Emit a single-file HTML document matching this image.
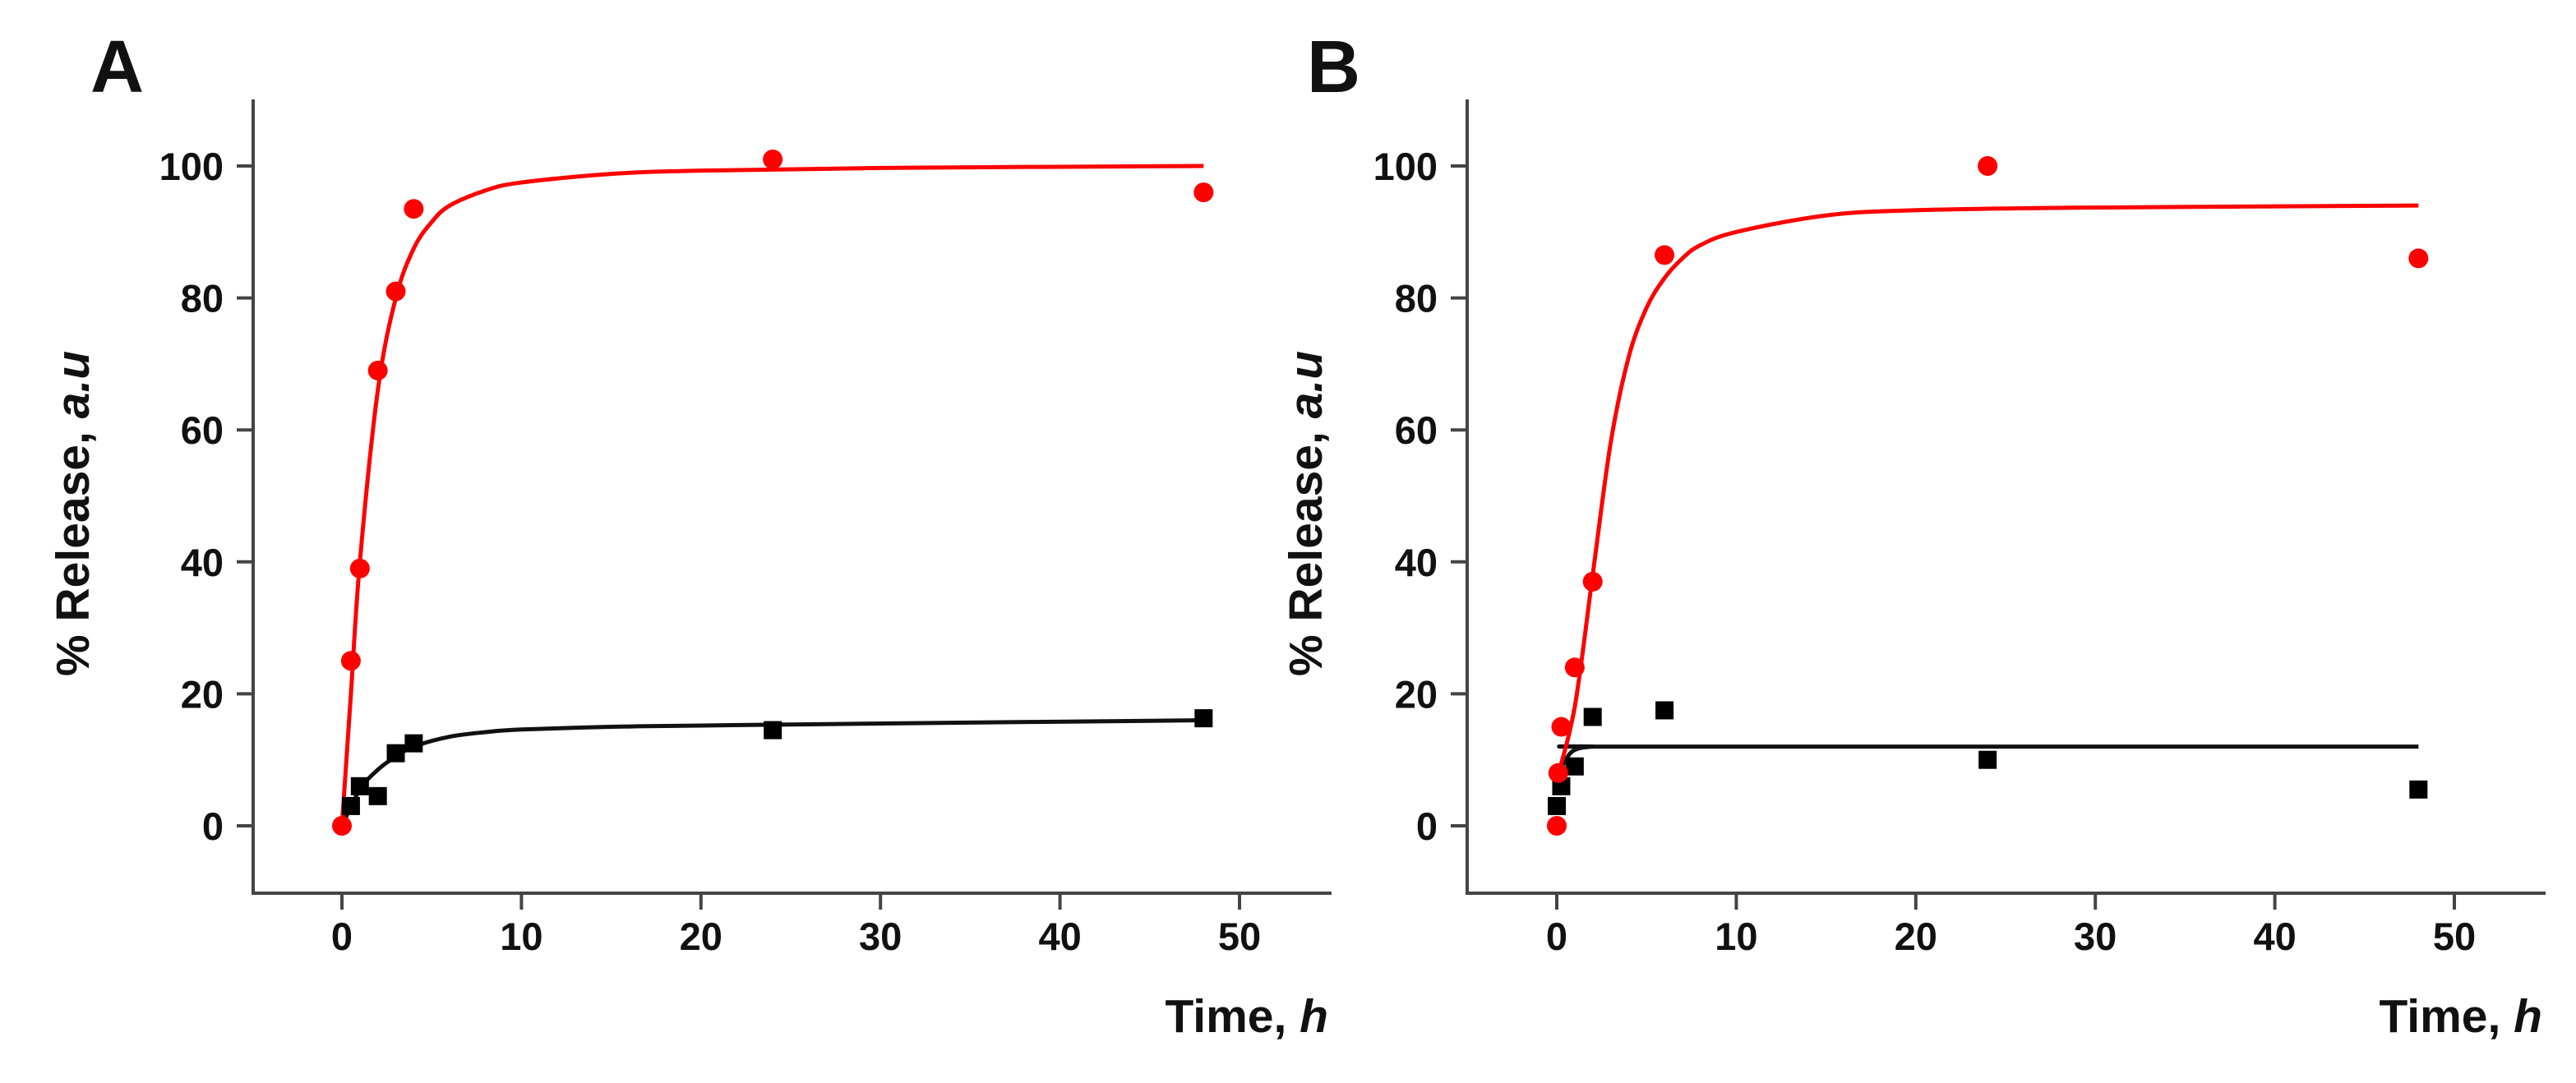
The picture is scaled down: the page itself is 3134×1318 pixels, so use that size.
<!DOCTYPE html>
<html><head><meta charset="utf-8"><style>
html,body{margin:0;padding:0;background:#fff}
svg{display:block}
text{font-family:"Liberation Sans",sans-serif;font-weight:bold;fill:#111}
</style></head><body>
<svg id="chart" width="3134" height="1318" viewBox="0 0 3134 1318" xmlns="http://www.w3.org/2000/svg"></svg>
<script>
// Panel A data
const timesA_red = [0, 0.5, 1, 2, 3, 4, 24, 48];
const valuesA_red = [0, 25, 39, 69, 81, 93.5, 101, 96];
const timesA_black = [0.5, 1, 2, 3, 4, 24, 48];
const valuesA_black = [3, 6, 4.5, 11, 12.5, 14.5, 16.3];
const fitTA_red = [0, 0.5, 1, 2, 3, 4, 5, 6, 8, 10, 15, 20, 30, 48];
const fitYA_red = [0, 20, 40, 66, 80, 87.5, 91.5, 94, 96.3, 97.5, 98.8, 99.3, 99.7, 100];
const fitTA_black = [0, 1, 2, 3, 4, 6, 8, 10, 15, 20, 30, 48];
const fitYA_black = [0, 5.5, 8.5, 10.5, 12, 13.5, 14.2, 14.6, 15, 15.2, 15.5, 16];
// Panel B data
const timesB_red = [0, 0.083, 0.25, 1, 2, 6, 24, 48];
const valuesB_red = [0, 8, 15, 24, 37, 86.5, 100, 86];
const timesB_black = [0, 0.25, 1, 2, 6, 24, 48];
const valuesB_black = [3, 6, 9, 16.5, 17.5, 10, 5.5];
const fitTB_red = [0, 1, 2, 3, 4, 5, 6, 7, 8, 10, 15, 20, 30, 48];
const fitYB_red = [7, 18, 38, 58, 71, 78.5, 83, 86, 88, 90, 92.5, 93.3, 93.7, 94];
const fitTB_black = [0, 0.5, 1, 2, 4, 48];
const fitYB_black = [7, 10, 11.5, 12, 12, 12];
// Ticks
const xTicks = [0, 10, 20, 30, 40, 50];
const yTicks = [0, 20, 40, 60, 80, 100];

const NS = "http://www.w3.org/2000/svg";
const svg = document.getElementById('chart');
function mk(tag, attrs, parent) {
  const e = document.createElementNS(NS, tag);
  for (const k in attrs) e.setAttribute(k, attrs[k]);
  (parent || svg).appendChild(e);
  return e;
}
function yScale(v) { return 1005 - v * 8.03; }

function panel(p) {
  const g = mk('g', {});
  
  
  const xs = v => p.x0 + v * 21.84;
  const axisX = p.axisX, axisY = 1087;
  const lbl = mk('text', {x: p.labelX, y: 112, 'font-size': 90}, g);
  lbl.textContent = p.id;
  
  
  const ya = mk('line', {x1: axisX, y1: 121, x2: axisX, y2: axisY + 2, stroke: '#444', 'stroke-width': 4}, g);
  
  
  const xa = mk('line', {x1: axisX - 2, y1: axisY, x2: p.axisEnd, y2: axisY, stroke: '#444', 'stroke-width': 4}, g);
  
  
  yTicks.forEach(t => {
    const y = yScale(t);
    const tk = mk('line', {x1: axisX - 20, y1: y, x2: axisX, y2: y, stroke: '#444', 'stroke-width': 4}, g);
    
    
    const tl = mk('text', {x: axisX - 36, y: y + 17, 'font-size': 47, 'text-anchor': 'end'}, g);
    tl.textContent = t;
    
    
  });
  xTicks.forEach(t => {
    const x = xs(t);
    const tk = mk('line', {x1: x, y1: axisY, x2: x, y2: axisY + 20, stroke: '#444', 'stroke-width': 4}, g);
    
    
    const tl = mk('text', {x: x, y: 1156, 'font-size': 47, 'text-anchor': 'middle'}, g);
    tl.textContent = t;
    
    
  });
  const xt = mk('text', {x: p.axisEnd - 4, y: 1256, 'font-size': 57, 'text-anchor': 'end'}, g);
  xt.innerHTML = 'Time, <tspan font-style="italic">h</tspan>';
  
  
  const yt = mk('text', {x: 0, y: 0, 'font-size': 57, 'text-anchor': 'middle', transform: 'translate(' + p.titleX + ',625) rotate(-90)'}, g);
  yt.innerHTML = '% Release, <tspan font-style="italic">a.u</tspan>';
  
  

  function curve(ts, ys, color, name) {
    const pts = ts.map((t, i) => [xs(t), yScale(ys[i])]);
    let d = 'M' + pts[0][0] + ',' + pts[0][1];
    for (let i = 0; i < pts.length - 1; i++) {
      const p0 = pts[Math.max(0, i - 1)], p1 = pts[i], p2 = pts[i + 1], p3 = pts[Math.min(pts.length - 1, i + 2)];
      const c1 = [p1[0] + (p2[0] - p0[0]) / 6, p1[1] + (p2[1] - p0[1]) / 6];
      const c2 = [p2[0] - (p3[0] - p1[0]) / 6, p2[1] - (p3[1] - p1[1]) / 6];
      d += ' C' + c1 + ' ' + c2 + ' ' + p2;
    }
    const path = mk('path', {d: d, fill: 'none', stroke: color, 'stroke-width': 5}, g);
    
    
  }
  curve(p.fbT, p.fbY, '#111', 'fit-line-black');
  curve(p.frT, p.frY, '#ff0000', 'fit-line-red');
  p.bT.forEach((t, i) => {
    const s = mk('rect', {x: xs(t) - 11, y: yScale(p.bY[i]) - 11, width: 22, height: 22, fill: '#000'}, g);
    
    
  });
  p.rT.forEach((t, i) => {
    const c = mk('circle', {cx: xs(t), cy: yScale(p.rY[i]), r: 12, fill: '#ff0000'}, g);
    
    
  });
}
panel({id: 'A', x0: 416, axisX: 308, axisEnd: 1620, labelX: 110, titleX: 108,
  rT: timesA_red, rY: valuesA_red, bT: timesA_black, bY: valuesA_black,
  frT: fitTA_red, frY: fitYA_red, fbT: fitTA_black, fbY: fitYA_black});
panel({id: 'B', x0: 1894, axisX: 1785, axisEnd: 3097, labelX: 1590, titleX: 1608,
  rT: timesB_red, rY: valuesB_red, bT: timesB_black, bY: valuesB_black,
  frT: fitTB_red, frY: fitYB_red, fbT: fitTB_black, fbY: fitYB_black});
</script>
</body></html>
